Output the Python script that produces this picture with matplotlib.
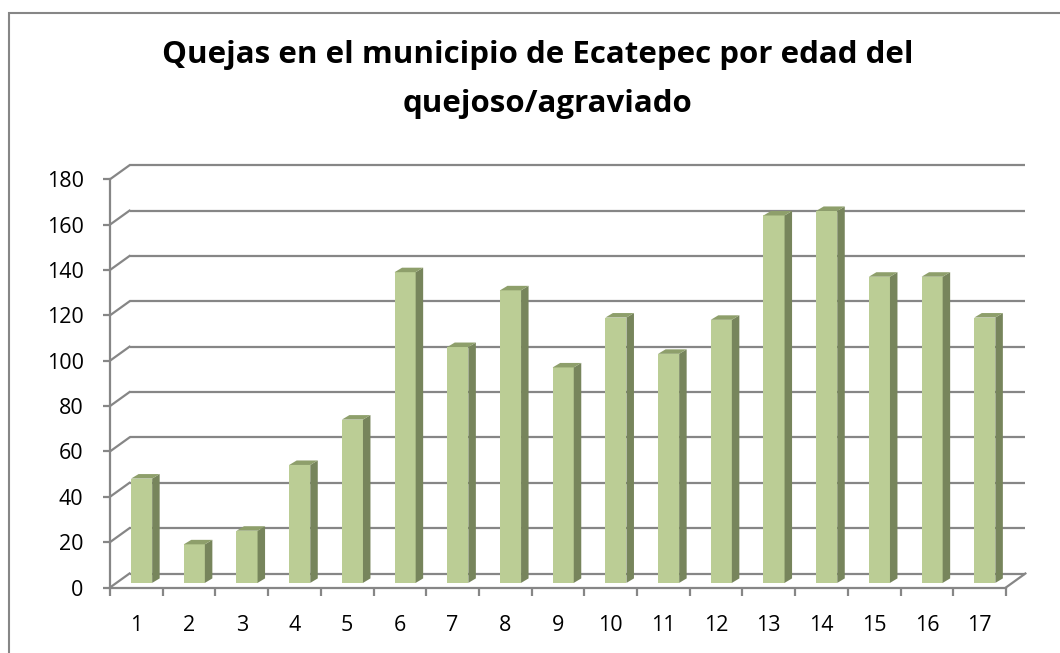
import numpy as np
import matplotlib.pyplot as plt
from matplotlib.patches import Polygon, Rectangle

plt.rcParams['font.family'] = ['Open Sans', 'DejaVu Sans']

## data
categorias = [str(i) for i in range(1, 18)]
quejas = [46, 17, 23, 52, 72, 137, 104, 129, 95, 117, 101, 116, 162, 164, 135, 135, 117]
yticks = list(range(0, 181, 20))
titulo1 = "Quejas en el municipio de Ecatepec por edad del"
titulo2 = "quejoso/agraviado"

W, H = 1060, 653
fig = plt.figure(figsize=(W / 100, H / 100), dpi=100)

## pixel scale of the plot area
ux = 52.7     # px per category
uy = 2.268    # px per unit of value
x0px, y0px = 110, 587.5
ddx = 19.5 / ux   # depth of the floor (3d look)
ddy = 14.0 / uy
xmax = 17.5 + 22 / ux
ymax = 180 + 16 / uy

ax = fig.add_axes([x0px / W, (H - y0px) / H, (xmax - 0.5) * ux / W, ymax * uy / H])
ax.set_xlim(0.5, xmax)
ax.set_ylim(0, ymax)

gris = '#868686'
lw = 1.6

## back wall gridlines + diagonals to the front axis
for t in yticks:
	ax.plot([0.5 + ddx, 17.5 + ddx], [t + ddy, t + ddy], color=gris, lw=lw, zorder=1, solid_capstyle='butt')
	ax.plot([0.5, 0.5 + ddx], [t, t + ddy], color=gris, lw=lw, zorder=1)
## floor right edge
ax.plot([17.5, 17.5 + ddx], [0, ddy], color=gris, lw=lw, zorder=1)

## bars: front face, side and top
xs = np.arange(1, len(quejas) + 1)
off = -0.1
bw = 0.4
base = 4.6 / uy
sdx = 7.5 / ux
sdy = 4.5 / uy
ax.bar(xs + off, quejas, width=bw, bottom=base, align='edge', color='#bbcd95', zorder=3)
for x, v in zip(xs, quejas):
	xl = x + off
	xr = xl + bw
	top = base + v
	side = Polygon([(xr, base), (xr + sdx, base + sdy), (xr + sdx, top + sdy), (xr, top)],
		closed=True, facecolor='#77855c', edgecolor='none', zorder=3)
	cap = Polygon([(xl, top), (xl + sdx, top + sdy), (xr + sdx, top + sdy), (xr, top)],
		closed=True, facecolor='#8e9f6b', edgecolor='none', zorder=3)
	ax.add_patch(side)
	ax.add_patch(cap)

## axes look
for s in ['top', 'right']:
	ax.spines[s].set_visible(False)
ax.spines['left'].set_bounds(0, 180)
ax.spines['bottom'].set_bounds(0.5, 17.5)
for s in ['left', 'bottom']:
	ax.spines[s].set_color(gris)
	ax.spines[s].set_linewidth(lw)
	ax.spines[s].set_zorder(4)

ax.set_yticks(yticks)
ax.set_yticklabels([str(t) for t in yticks])
ax.tick_params(axis='y', length=5, width=lw, color=gris, pad=14, labelsize=15.5)

ax.set_xticks(np.arange(0.5, 18, 1))
ax.set_xticklabels([])
ax.set_xticks(xs, minor=True)
ax.set_xticklabels(categorias, minor=True)
ax.tick_params(axis='x', which='major', length=6, width=lw, color=gris)
ax.tick_params(axis='x', which='minor', length=0, pad=20, labelsize=15.5)

## title
fig.text(538 / W, 1 - 63 / H, titulo1, ha='center', va='baseline', fontsize=22.5, fontweight='bold')
fig.text(548 / W, 1 - 112 / H, titulo2, ha='center', va='baseline', fontsize=22.5, fontweight='bold')

## chart border (cut by the image on right and bottom)
fig.patches.append(Rectangle((9 / W, -0.1), 1.2, 1 - 13 / H + 0.1, transform=fig.transFigure,
	fill=False, edgecolor=gris, lw=1.5))

fig.savefig('out.png', dpi=100)
